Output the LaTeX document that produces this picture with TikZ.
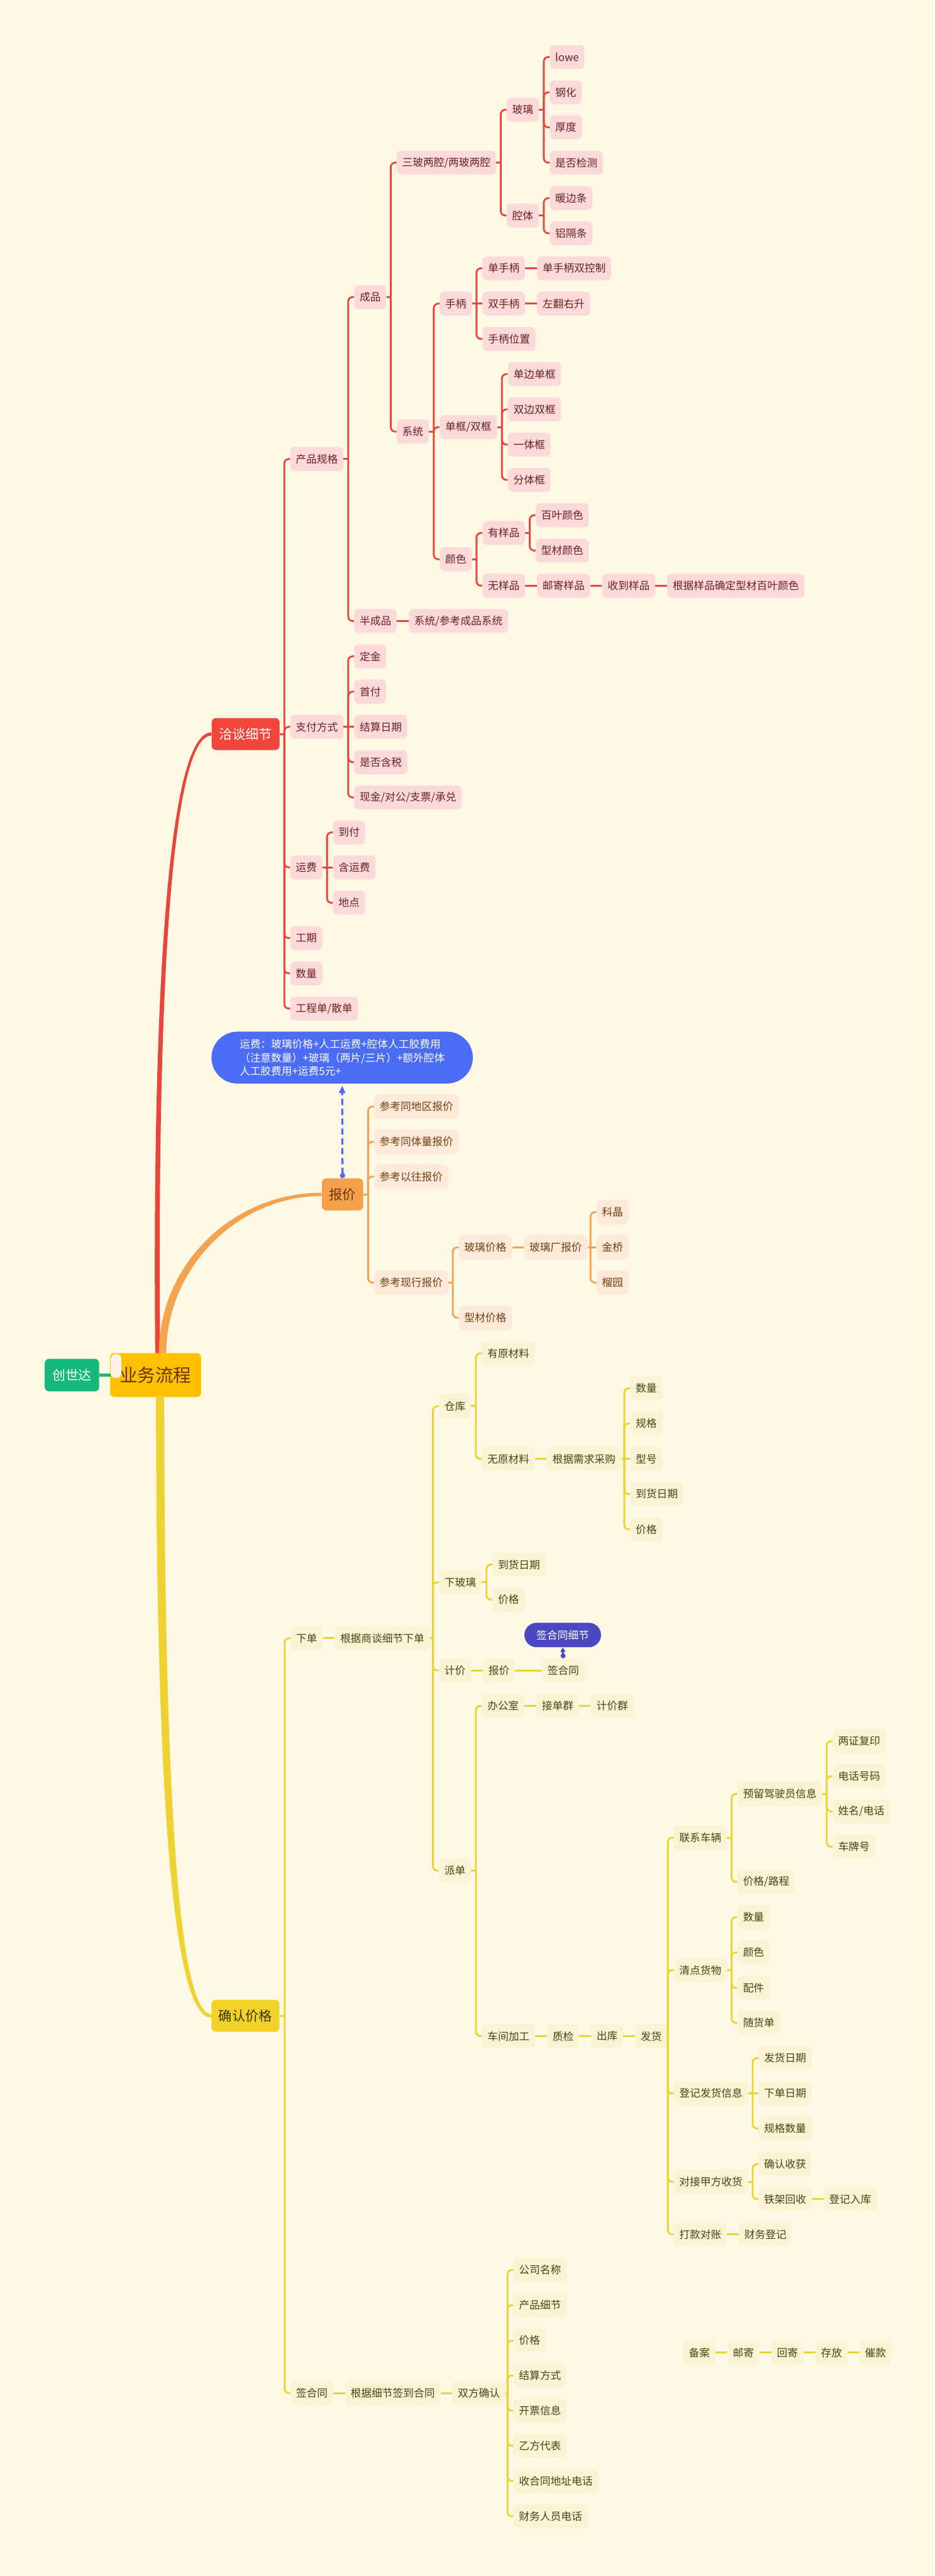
\documentclass[tikz,border=0pt]{standalone}
\usepackage{fontspec}
\setmainfont{Noto Sans CJK SC}
\usetikzlibrary{positioning,calc,arrows.meta}

\definecolor{bgcol}{HTML}{FEF8E5}
\definecolor{redline}{HTML}{E8463B}
\definecolor{redmain}{HTML}{F2463A}
\definecolor{redfill}{HTML}{FCDADA}
\definecolor{redtext}{HTML}{6E1F1F}
\definecolor{orgline}{HTML}{F3A24F}
\definecolor{orgmain}{HTML}{F5A04B}
\definecolor{orgfill}{HTML}{FBE9DA}
\definecolor{orgtext}{HTML}{7A3E0E}
\definecolor{ylwline}{HTML}{EED232}
\definecolor{ylwmain}{HTML}{F0D228}
\definecolor{ylwfill}{HTML}{FAF3D4}
\definecolor{ylwtext}{HTML}{4A4312}
\definecolor{rootfill}{HTML}{FFC000}
\definecolor{roottext}{HTML}{6B3500}
\definecolor{csdfill}{HTML}{14B87A}
\definecolor{notefill}{HTML}{4B6CF5}
\definecolor{tagfill}{HTML}{4B48C2}

% elbow from parent to child
\newcommand{\branchto}[3]{%
  \draw[#1] (#2.east) -- ($(#2.east -| #3.west)+(-3.5,0)$);
  \draw[#1, rounded corners=1.2mm] ($(#2.east -| #3.west)+(-3.5,0)$) |- (#3.west);}

\begin{document}
\begin{tikzpicture}[
    x=0.045cm, y=-0.045cm,
    topic/.style={anchor=west, rounded corners=0.12cm, inner xsep=0.15cm, inner ysep=0pt, minimum height=0.656cm, font=\fontsize{8.2pt}{10pt}\selectfont},
    rt/.style={topic, fill=redfill, text=redtext},
    ot/.style={topic, fill=orgfill, text=orgtext},
    yt/.style={topic, fill=ylwfill, text=ylwtext},
    mainbox/.style={anchor=west, rounded corners=0.12cm, inner xsep=0.2cm, inner ysep=0pt, minimum height=0.875cm, font=\fontsize{10.4pt}{12pt}\selectfont},
    rootbox/.style={anchor=west, fill=rootfill, draw=rootfill!70!yellow, text=roottext, rounded corners=0.1cm, minimum width=2.48cm, minimum height=1.19cm, font=\fontsize{14pt}{16pt}\selectfont},
    tabbox/.style={anchor=west, fill=orgfill!60!white, rounded corners=0.12cm, minimum width=0.29cm, minimum height=0.65cm, inner sep=0pt},
    csdbox/.style={anchor=west, fill=csdfill, text=white, rounded corners=0.12cm, minimum width=1.49cm, minimum height=0.89cm, font=\fontsize{10.2pt}{12pt}\selectfont},
    note/.style={anchor=west, fill=notefill, text=white, rounded corners=0.71cm, minimum width=7.16cm, minimum height=1.42cm, align=left, font=\fontsize{8.2pt}{10.5pt}\selectfont},
    tagbox/.style={anchor=west, fill=tagfill, text=white, rounded corners=0.335cm, minimum width=2.1cm, minimum height=0.67cm, font=\fontsize{8.2pt}{10pt}\selectfont},
    rl/.style={redline, line width=1.4pt},
    ol/.style={orgline, line width=1.4pt},
    yl/.style={ylwline, line width=1.4pt},
    gap/.style={right=0.316cm of #1}
]
    \fill[bgcol] (0,0) rectangle (569,1568);
    \useasboundingbox (0,0) rectangle (569,1568);

    % Root
    \node[rootbox] (root) at (67,837) {业务流程};
    \node[tabbox] (tab) at (67.3,831.5) {};
    \node[csdbox] (csd) at (27.1,837) {创世达};
    \draw[csdfill, line width=2.2pt] (csd.east) -- (tab.west |- csd.east);

    % Main topics
    \node[mainbox, fill=redmain, text=white] (qtxj) at (128.7,446.8) {洽谈细节};
    \node[mainbox, fill=orgmain, text=roottext] (bj) at (195.8,727) {报价};
    \node[mainbox, fill=ylwmain, text=ylwtext!80!black] (qrjg) at (128.6,1227) {确认价格};

    % Main curves
    \fill[redline] ($(root.north west)+(27.5,0)$) .. controls +(-2,-224) and +(-26,0) .. ($(qtxj.west)+(0,-1)$)
        -- ($(qtxj.west)+(0,1)$) .. controls +(-24,0) and +(-2,-224) .. ($(root.north west)+(30.5,0)$) -- cycle;
    \fill[orgline] ($(root.north west)+(29.75,0)$) .. controls +(0,-54) and +(-54,0) .. ($(bj.west)+(0,-1)$)
        -- ($(bj.west)+(0,1)$) .. controls +(-51,0) and +(0,-52) .. ($(root.north west)+(34.25,0)$) -- cycle;
    \fill[ylwline] ($(root.south west)+(28,0)$) .. controls +(0,280) and +(-20,0) .. ($(qrjg.west)+(0,1.1)$)
        -- ($(qrjg.west)+(0,-1.1)$) .. controls +(-17,0) and +(0,278) .. ($(root.south west)+(33,0)$) -- cycle;

    % Negotiation details
    \node[rt] (cpgg) at (176.6,279.4) {产品规格};
    \node[rt] (cp) at (215.5,180.8) {成品};
    \node[rt] (bcp) at (215.5,378) {半成品};
    \node[rt, gap=bcp] (xtck) {系统/参考成品系统};
    \node[rt] (sblq) at (241.4,99) {三玻两腔/两玻两腔};
    \node[rt] (xt) at (241.4,262.7) {系统};
    \node[rt] (bl) at (308.4,66.8) {玻璃};
    \node[rt] (qt) at (308.4,131.2) {腔体};
    \node[rt] (lowe) at (334.6,34.7) {lowe};
    \node[rt] (gh) at (334.6,56.2) {钢化};
    \node[rt] (hd) at (334.6,77.5) {厚度};
    \node[rt] (sfjc) at (334.6,99) {是否检测};
    \node[rt] (nbt) at (334.6,120.6) {暖边条};
    \node[rt] (lgt) at (334.6,142) {铝隔条};
    \node[rt] (sb) at (267.6,184.8) {手柄};
    \node[rt] (dsb) at (293.6,163.3) {单手柄};
    \node[rt, gap=dsb] (dsbsk) {单手柄双控制};
    \node[rt] (ssb) at (293.6,184.8) {双手柄};
    \node[rt, gap=ssb] (zfys) {左翻右升};
    \node[rt] (sbwz) at (293.6,206.3) {手柄位置};
    \node[rt] (dksk) at (267.6,260) {单框/双框};
    \node[rt] (dbdk) at (309.1,227.7) {单边单框};
    \node[rt] (sbsk) at (309.1,249.2) {双边双框};
    \node[rt] (ytk) at (309.1,270.6) {一体框};
    \node[rt] (ftk) at (309.1,292.1) {分体框};
    \node[rt] (ys) at (267.6,340.4) {颜色};
    \node[rt] (yyp) at (293.6,324.4) {有样品};
    \node[rt] (byys) at (326,313.6) {百叶颜色};
    \node[rt] (xcys) at (326,335.1) {型材颜色};
    \node[rt] (wyp) at (293.6,356.5) {无样品};
    \node[rt, gap=wyp] (yjyp) {邮寄样品};
    \node[rt, gap=yjyp] (sdyp) {收到样品};
    \node[rt, gap=sdyp] (qdys) {根据样品确定型材百叶颜色};
    \node[rt] (zffs) at (176.6,442.4) {支付方式};
    \node[rt] (dj) at (215.5,399.5) {定金};
    \node[rt] (sf) at (215.5,421) {首付};
    \node[rt] (jsrq) at (215.5,442.4) {结算日期};
    \node[rt] (sfhs) at (215.5,463.9) {是否含税};
    \node[rt] (xj) at (215.5,485.4) {现金/对公/支票/承兑};
    \node[rt] (yf) at (176.6,528) {运费};
    \node[rt] (df) at (202.6,506.7) {到付};
    \node[rt] (hyf) at (202.6,528) {含运费};
    \node[rt] (dd) at (202.6,549.5) {地点};
    \node[rt] (gq) at (176.6,571) {工期};
    \node[rt] (sl) at (176.6,592.5) {数量};
    \node[rt] (gcd) at (176.6,613.9) {工程单/散单};

    \foreach \c in {cpgg,zffs,yf,gq,sl,gcd} {\branchto{rl}{qtxj}{\c}}
    \foreach \c in {cp,bcp} {\branchto{rl}{cpgg}{\c}}
    \foreach \c in {sblq,xt} {\branchto{rl}{cp}{\c}}
    \foreach \c in {bl,qt} {\branchto{rl}{sblq}{\c}}
    \foreach \c in {lowe,gh,hd,sfjc} {\branchto{rl}{bl}{\c}}
    \foreach \c in {nbt,lgt} {\branchto{rl}{qt}{\c}}
    \foreach \c in {sb,dksk,ys} {\branchto{rl}{xt}{\c}}
    \foreach \c in {dsb,sbwz} {\branchto{rl}{sb}{\c}}
    \foreach \c in {dbdk,sbsk,ytk,ftk} {\branchto{rl}{dksk}{\c}}
    \foreach \c in {yyp,wyp} {\branchto{rl}{ys}{\c}}
    \foreach \c in {byys,xcys} {\branchto{rl}{yyp}{\c}}
    \foreach \c in {dj,sf,sfhs,xj} {\branchto{rl}{zffs}{\c}}
    \foreach \c in {df,dd} {\branchto{rl}{yf}{\c}}
    \foreach \a/\b in {bcp/xtck,sb/ssb,dsb/dsbsk,ssb/zfys,wyp/yjyp,yjyp/sdyp,sdyp/qdys,zffs/jsrq,yf/hyf}
        {\draw[rl] (\a.east) -- (\b.west);}

    % Quotation
    \node[note] (note) at (128.6,643.75) {运费：玻璃价格+人工运费+腔体人工胶费用\\（注意数量）+玻璃（两片/三片）+额外腔体\\人工胶费用+运费5元+};
    \draw[notefill, line width=1.6pt, dash pattern=on 0.17cm off 0.1cm, shorten >=1.5pt,
        {Circle[length=0.14cm]}-{Triangle[length=0.2cm,width=0.17cm]}] (bj.north) -- (note.south);
    \node[ot] (ckdq) at (227.6,673.5) {参考同地区报价};
    \node[ot] (cktl) at (227.6,695) {参考同体量报价};
    \node[ot] (ckyw) at (227.6,716.2) {参考以往报价};
    \node[ot] (ckxx) at (227.6,780.7) {参考现行报价};
    \node[ot] (bljg) at (279.2,759.2) {玻璃价格};
    \node[ot, gap=bljg] (blcbj) {玻璃厂报价};
    \node[ot] (xcjg) at (279.2,802.1) {型材价格};
    \node[ot] (kj) at (363,737.8) {科晶};
    \node[ot] (jq) at (363,759.2) {金桥};
    \node[ot] (ly) at (363,780.7) {榴园};

    \foreach \c in {ckdq,cktl,ckyw,ckxx} {\branchto{ol}{bj}{\c}}
    \foreach \c in {bljg,xcjg} {\branchto{ol}{ckxx}{\c}}
    \foreach \c in {kj,ly} {\branchto{ol}{blcbj}{\c}}
    \draw[ol] (bljg.east) -- (blcbj.west);
    \draw[ol] (blcbj.east) -- (jq.west);

    % Price confirmation
    \node[yt] (xd) at (176.8,997.1) {下单};
    \node[yt, gap=xd] (gjsd) {根据商谈细节下单};
    \node[yt] (ck) at (267.1,855.9) {仓库};
    \node[yt] (yycl) at (293.2,823.8) {有原材料};
    \node[yt] (wycl) at (293.2,888) {无原材料};
    \node[yt, gap=wycl] (gjxq) {根据需求采购};
    \node[yt] (sl2) at (383.6,845) {数量};
    \node[yt] (gg) at (383.6,866.4) {规格};
    \node[yt] (xh) at (383.6,888) {型号};
    \node[yt] (dhrq) at (383.6,909.4) {到货日期};
    \node[yt] (jg) at (383.6,930.9) {价格};
    \node[yt] (xbl) at (267.1,963.1) {下玻璃};
    \node[yt] (dhrq2) at (299.7,952.3) {到货日期};
    \node[yt] (jg2) at (299.7,973.7) {价格};
    \node[yt] (jj) at (267.1,1016.8) {计价};
    \node[yt, gap=jj] (bj2) {报价};
    \node[yt] (qht) at (329.8,1016.8) {签合同};
    \node[tagbox] (xijie) at (319.1,995.2) {签合同细节};
    \draw[tagfill, line width=1.6pt, {Circle[length=0.13cm]}-{Triangle[length=0.12cm,width=0.14cm]}] (qht.north) -- (xijie.south);
    \node[yt] (pd) at (267.1,1138.6) {派单};
    \node[yt] (bgs) at (293.2,1038.3) {办公室};
    \node[yt, gap=bgs] (jdq) {接单群};
    \node[yt, gap=jdq] (jjq) {计价群};
    \node[yt] (cjjg) at (293.3,1239.4) {车间加工};
    \node[yt, gap=cjjg] (zj) {质检};
    \node[yt, gap=zj] (ck2) {出库};
    \node[yt, gap=ck2] (fh) {发货};
    \node[yt] (lxcl) at (410.1,1118.6) {联系车辆};
    \node[yt] (yljsy) at (448.9,1091.9) {预留驾驶员信息};
    \node[yt] (jglc) at (448.9,1145.4) {价格/路程};
    \node[yt] (lzfy) at (506.8,1059.8) {两证复印};
    \node[yt] (dhhm) at (506.8,1081.2) {电话号码};
    \node[yt] (xmdh) at (506.8,1102.6) {姓名/电话};
    \node[yt] (cph) at (506.8,1124.1) {车牌号};
    \node[yt] (qdhw) at (410.1,1199.2) {清点货物};
    \node[yt] (sl3) at (448.9,1166.9) {数量};
    \node[yt] (ys2) at (448.9,1188.4) {颜色};
    \node[yt] (pj) at (448.9,1210) {配件};
    \node[yt] (shd) at (448.9,1231.3) {随货单};
    \node[yt] (djfh) at (410.1,1274.2) {登记发货信息};
    \node[yt] (fhrq) at (461.7,1252.7) {发货日期};
    \node[yt] (xdrq) at (461.7,1274.2) {下单日期};
    \node[yt] (ggsl) at (461.7,1295.6) {规格数量};
    \node[yt] (djjf) at (410.1,1328) {对接甲方收货};
    \node[yt] (qrsh) at (461.7,1317.3) {确认收获};
    \node[yt] (tjhs) at (461.7,1338.6) {铁架回收};
    \node[yt, gap=tjhs] (djrk) {登记入库};
    \node[yt] (kkdz) at (410.1,1360) {打款对账};
    \node[yt, gap=kkdz] (cwdj) {财务登记};
    \node[yt] (qht2) at (176.8,1456.7) {签合同};
    \node[yt, gap=qht2] (gjxj) {根据细节签到合同};
    \node[yt, gap=gjxj] (sfqr) {双方确认};
    \node[yt] (gsmc) at (312.5,1381.7) {公司名称};
    \node[yt] (cpxj) at (312.5,1403.1) {产品细节};
    \node[yt] (jg3) at (312.5,1424.6) {价格};
    \node[yt] (jsfs) at (312.5,1445.9) {结算方式};
    \node[yt] (kpxx) at (312.5,1467.3) {开票信息};
    \node[yt] (yfdb) at (312.5,1488.7) {乙方代表};
    \node[yt] (shdz) at (312.5,1510.2) {收合同地址电话};
    \node[yt] (cwry) at (312.5,1531.6) {财务人员电话};

    % Floating topic
    \node[yt] (ba) at (415.9,1432) {备案};
    \node[yt, gap=ba] (yj) {邮寄};
    \node[yt, gap=yj] (hj) {回寄};
    \node[yt, gap=hj] (cf) {存放};
    \node[yt, gap=cf] (ckk) {催款};

    \foreach \c in {xd,qht2} {\branchto{yl}{qrjg}{\c}}
    \foreach \c in {ck,xbl,jj,pd} {\branchto{yl}{gjsd}{\c}}
    \foreach \c in {yycl,wycl} {\branchto{yl}{ck}{\c}}
    \foreach \c in {sl2,gg,dhrq,jg} {\branchto{yl}{gjxq}{\c}}
    \foreach \c in {dhrq2,jg2} {\branchto{yl}{xbl}{\c}}
    \foreach \c in {bgs,cjjg} {\branchto{yl}{pd}{\c}}
    \foreach \c in {lxcl,qdhw,djfh,djjf,kkdz} {\branchto{yl}{fh}{\c}}
    \foreach \c in {yljsy,jglc} {\branchto{yl}{lxcl}{\c}}
    \foreach \c in {lzfy,dhhm,xmdh,cph} {\branchto{yl}{yljsy}{\c}}
    \foreach \c in {sl3,ys2,pj,shd} {\branchto{yl}{qdhw}{\c}}
    \foreach \c in {fhrq,ggsl} {\branchto{yl}{djfh}{\c}}
    \foreach \c in {qrsh,tjhs} {\branchto{yl}{djjf}{\c}}
    \foreach \c in {gsmc,cpxj,jg3,jsfs,kpxx,yfdb,shdz,cwry} {\branchto{yl}{sfqr}{\c}}
    \foreach \a/\b in {xd/gjsd,wycl/gjxq,gjxq/xh,jj/bj2,bj2/qht,bgs/jdq,jdq/jjq,cjjg/zj,zj/ck2,ck2/fh,
        djfh/xdrq,tjhs/djrk,kkdz/cwdj,qht2/gjxj,gjxj/sfqr,ba/yj,yj/hj,hj/cf,cf/ckk}
        {\draw[yl] (\a.east) -- (\b.west);}

\end{tikzpicture}
\end{document}
